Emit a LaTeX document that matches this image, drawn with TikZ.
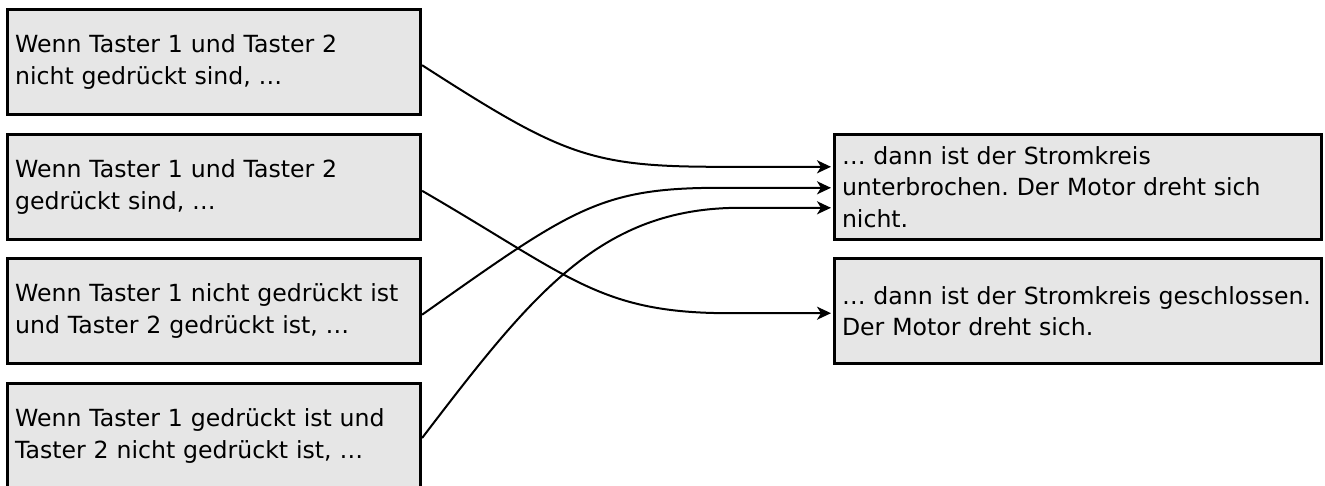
\documentclass[tikz,border=0pt]{standalone}
\usepackage{fontspec}
\setmainfont{DejaVu Sans}[WordSpace=1.3]
\usetikzlibrary{arrows.meta,calc}
\definecolor{boxfill}{HTML}{E6E6E6}
\tikzset{
  cbox/.style={draw=black, line width=3pt, fill=boxfill, rectangle,
    inner xsep=7.5pt, inner ysep=0pt, minimum height=105pt, align=left,
    font=\fontsize{23.6pt}{31.5pt}\selectfont},
  lbox/.style={cbox, text width=398pt},
  rbox/.style={cbox, text width=471.5pt},
  conn/.style={draw=black, line width=2pt, line cap=butt,
    -{Stealth[length=14pt,width=13pt,inset=4pt]}}
}
\frenchspacing
\begin{document}
\frenchspacing
\begin{tikzpicture}[x=1pt,y=-1pt]
\useasboundingbox (0,0) rectangle (1325,485);
\clip (0,0) rectangle (1325,485);
\fill[white] (0,0) rectangle (1325,485);
\node[lbox] (b1) at (214.1,62.2) {Wenn Taster 1 und Taster 2\\nicht gedrückt sind, …};
\node[lbox] (b2) at (214.1,186.8) {Wenn Taster 1 und Taster 2\\gedrückt sind, …};
\node[lbox] (b3) at (214.1,311.2) {Wenn Taster 1 nicht gedrückt ist\\und Taster 2 gedrückt ist, …};
\node[lbox] (b4) at (214.1,436) {Wenn Taster 1 gedrückt ist und\\Taster 2 nicht gedrückt ist, …};
\node[rbox] (A) at (1077.75,186.8) {… dann ist der Stromkreis\\unterbrochen. Der Motor dreht sich\\nicht.};
\node[rbox] (B) at (1077.75,311.2) {… dann ist der Stromkreis geschlossen.\\Der Motor dreht sich.};
\coordinate (s1) at ($(b1.east)+(0,3)$);
\coordinate (s2) at ($(b2.east)+(0,4)$);
\coordinate (s3) at ($(b3.east)+(0,3.5)$);
\coordinate (s4) at ($(b4.east)+(0,2)$);
\coordinate (e1) at ($(A.west)+(-2,-20)$);
\coordinate (e2) at ($(B.west)+(-2,2)$);
\coordinate (e3) at ($(A.west)+(-2,1)$);
\coordinate (e4) at ($(A.west)+(-2,21)$);
\draw[conn] (s1) .. controls +(140,90) and +(-130,0) .. ($(e1)+(-111,0)$) -- (e1);
\draw[conn] (s2) .. controls +(150,87) and +(-130,0) .. ($(e2)+(-101,0)$) -- (e2);
\draw[conn] (s3) .. controls +(150,-106) and +(-120,0) .. ($(e3)+(-111,0)$) -- (e3);
\draw[conn] (s4) .. controls +(110,-144) and +(-140,0) .. ($(e4)+(-91,0)$) -- (e4);
\end{tikzpicture}
\end{document}
